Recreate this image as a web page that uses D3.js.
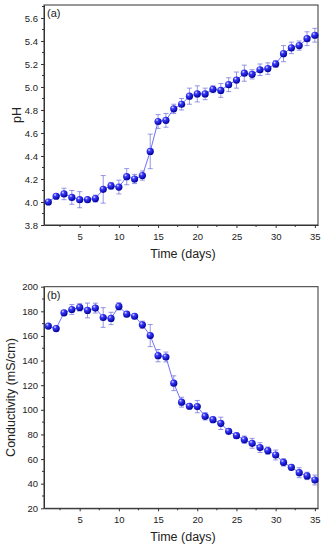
<!DOCTYPE html>
<html><head><meta charset="utf-8">
<script src="https://cdn.jsdelivr.net/npm/d3@7"></script>
<style>body{margin:0;background:#fff}svg{display:block}</style>
</head><body>
<script>
const days = d3.range(1, 36);
const phValues = [4.00,4.05,4.07,4.04,4.02,4.02,4.03,4.11,4.14,4.13,4.22,4.20,4.23,4.44,4.70,4.71,4.81,4.85,4.92,4.94,4.94,4.98,4.97,5.02,5.06,5.12,5.11,5.15,5.16,5.20,5.29,5.34,5.36,5.42,5.45];
const phErrors = [0.01,0.02,0.05,0.06,0.07,0.01,0.03,0.12,0.03,0.06,0.07,0.04,0.04,0.15,0.06,0.06,0.04,0.05,0.07,0.07,0.05,0.03,0.06,0.06,0.07,0.07,0.04,0.05,0.05,0.03,0.07,0.05,0.04,0.06,0.06];
const condValues = [168,166,178.8,181.5,183.2,180.7,182.6,175,174.2,184,177.7,176,169,160.3,144,142.9,121.6,106.2,102.9,102.6,94.7,92,89,82.5,79,75.7,72.8,69.3,66.8,63.3,57.3,53.3,48.9,46.3,43];
const condErrors = [1,2,2,4,3,6,4,8,5,3,2,2,3,9,5,4,6,4,2,5,3,2,5,2,2,3,4,4,3,4,3,2,4,3,4];
const xTicks = [5,10,15,20,25,30,35];
const phTicks = [3.8,4.0,4.2,4.4,4.6,4.8,5.0,5.2,5.4,5.6];
const condTicks = [20,40,60,80,100,120,140,160,180,200];

const W = 327, H = 550;
const svg = d3.select("body").append("svg").attr("width", W).attr("height", H);
const defs = svg.append("defs");
const grad = defs.append("radialGradient").attr("id","ball").attr("cx","35%").attr("cy","30%").attr("r","70%");
grad.append("stop").attr("offset","0%").attr("stop-color","#e8e8ff");
grad.append("stop").attr("offset","30%").attr("stop-color","#3a3aff");
grad.append("stop").attr("offset","100%").attr("stop-color","#00009a");

const font = "Arial, 'Liberation Sans', sans-serif";

function panel(cfg) {
  const {top, bottom, yDomain, yTicks, yMinorStep, values, errors, label, yLabel, yFmt, yLabelX} = cfg;
  const left = 44, right = 318;
  const x = d3.scaleLinear().domain([0.45, 35.4]).range([left, right]);
  const y = d3.scaleLinear().domain(yDomain).range([bottom, top]);
  const g = svg.append("g");

  // frame
  g.append("rect").attr("x", left).attr("y", top).attr("width", right-left).attr("height", bottom-top)
    .attr("fill","none").attr("stroke","#333").attr("stroke-width",1);

  // x axis
  const xAxis = d3.axisBottom(x).tickValues(xTicks).tickSize(3).tickSizeOuter(0).tickFormat(d3.format("d"));
  const xg = g.append("g").attr("transform",`translate(0,${bottom})`).call(xAxis);
  const xMinor = d3.range(2.5, 35.1, 5);
  xg.selectAll(".minor").data(xMinor).enter().append("line").attr("class","minor")
    .attr("x1", d=>x(d)).attr("x2", d=>x(d)).attr("y1",0).attr("y2",2).attr("stroke","#333");
  // y axis
  const yAxis = d3.axisLeft(y).tickValues(yTicks).tickSize(3).tickSizeOuter(0).tickFormat(yFmt);
  const yg = g.append("g").attr("transform",`translate(${left},0)`).call(yAxis);
  const yMinor = d3.range(yDomain[0] + yMinorStep, yDomain[1], yMinorStep*2);
  yg.selectAll(".minor").data(yMinor).enter().append("line").attr("class","minor")
    .attr("x1",0).attr("x2",-2).attr("y1", d=>y(d)).attr("y2", d=>y(d)).attr("stroke","#333");
  [xg, yg].forEach(a => {
    a.select(".domain").attr("stroke","#333");
    a.selectAll(".tick line").attr("stroke","#333");
    a.selectAll("text").attr("font-family", font).attr("font-size", 9.5).attr("fill","#222");
  });
  xg.selectAll(".tick text").attr("dy","0.9em");

  // line
  const data = days.map((d,i)=>({d, v: values[i], e: errors[i]}));
  g.append("path").datum(data).attr("fill","none").attr("stroke","#4a4aff").attr("stroke-width",0.8)
    .attr("d", d3.line().x(p=>x(p.d)).y(p=>y(p.v)));
  // error bars
  const eb = g.append("g").attr("stroke","#7b7be0").attr("stroke-width",0.8);
  data.forEach(p => {
    eb.append("line").attr("x1",x(p.d)).attr("x2",x(p.d)).attr("y1",y(p.v-p.e)).attr("y2",y(p.v+p.e));
    eb.append("line").attr("x1",x(p.d)-2.5).attr("x2",x(p.d)+2.5).attr("y1",y(p.v-p.e)).attr("y2",y(p.v-p.e));
    eb.append("line").attr("x1",x(p.d)-2.5).attr("x2",x(p.d)+2.5).attr("y1",y(p.v+p.e)).attr("y2",y(p.v+p.e));
  });
  g.append("g").selectAll("circle").data(data).enter().append("circle")
    .attr("cx", p=>x(p.d)).attr("cy", p=>y(p.v)).attr("r",3.6).attr("fill","url(#ball)");

  g.append("text").attr("x", left+3).attr("y", top+12).text(label)
    .attr("font-family", font).attr("font-size", 11).attr("fill","#222");
  g.append("text").attr("x", (left+right)/2+2).attr("y", bottom+33).attr("text-anchor","middle")
    .text("Time (days)").attr("font-family", font).attr("font-size", 12.5).attr("fill","#222");
  g.append("text").attr("transform",`translate(${yLabelX},${(top+bottom)/2}) rotate(-90)`)
    .attr("text-anchor","middle").text(yLabel).attr("font-family", font).attr("font-size", 12.5).attr("fill","#222");
}

panel({top:5, bottom:225, yDomain:[3.8,5.713], yTicks:phTicks, yMinorStep:0.1,
  values:phValues, errors:phErrors, label:"(a)", yLabel:"pH", yFmt:d3.format(".1f"), yLabelX:21});
panel({top:286.7, bottom:508.3, yDomain:[20,200], yTicks:condTicks, yMinorStep:10,
  values:condValues, errors:condErrors, label:"(b)", yLabel:"Conductivity (mS/cm)", yFmt:d3.format("d"), yLabelX:15});
</script>
</body></html>
